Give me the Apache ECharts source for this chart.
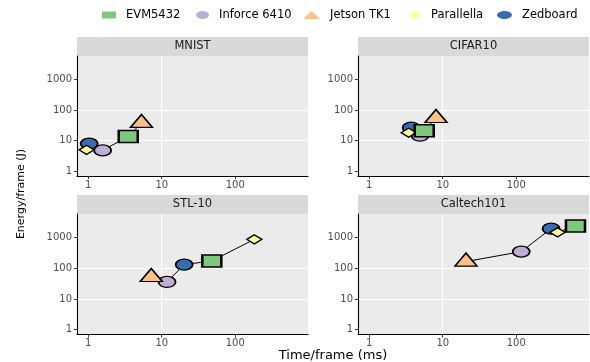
<!DOCTYPE html>
<html><head><meta charset="utf-8">
<script src="https://cdn.jsdelivr.net/npm/echarts@6/dist/echarts.min.js"></script>
<style>html,body{margin:0;padding:0;background:#fff}#c{width:590px;height:362px}</style>
</head><body><div id="c"></div>
<script>
// ---- data ----
const panels = ['MNIST', 'CIFAR10', 'STL-10', 'Caltech101'];
const devices = ['EVM5432', 'Inforce 6410', 'Jetson TK1', 'Parallella', 'Zedboard'];
// time per frame (ms) and energy per frame (J), values in device order
const timeMNIST = [3.5, 1.57, 5.3, 0.95, 1.03];
const energyMNIST = [13.7, 4.8, 38, 5.0, 8.0];
const timeCIFAR10 = [5.6, 4.9, 8.1, 3.44, 3.72];
const energyCIFAR10 = [21.2, 14.5, 55, 18.2, 26.6];
const timeSTL10 = [48, 11.8, 7.2, 182, 20.2];
const energySTL10 = [174, 36, 52, 880, 132];
const timeCaltech101 = [640, 117, 20.7, 365, 298];
const energyCaltech101 = [2405, 350, 166, 1490, 1965];
const xTickValues = [1, 10, 100];
const yTickValues = [1, 10, 100, 1000];

const times = [timeMNIST, timeCIFAR10, timeSTL10, timeCaltech101];
const energies = [energyMNIST, energyCIFAR10, energySTL10, energyCaltech101];

// ---- styles ----
const colors = {'EVM5432': '#7FC97F', 'Inforce 6410': '#BEAED4', 'Jetson TK1': '#FDC086', 'Parallella': '#FFFF99', 'Zedboard': '#386CB0'};
const symbols = {'EVM5432': 'rect', 'Inforce 6410': 'circle', 'Jetson TK1': 'triangle', 'Parallella': 'diamond', 'Zedboard': 'circle'};
const legendIcons = {
  'EVM5432': 'rect',
  'Inforce 6410': 'path://M0,5A5,5 0 1,1 10,5A5,5 0 1,1 0,5Z',
  'Jetson TK1': 'path://M5,0L10,10L0,10Z',
  'Parallella': 'path://M5,0L10,5L5,10L0,5Z',
  'Zedboard': 'path://M0,5A5,5 0 1,1 10,5A5,5 0 1,1 0,5Z'
};
const sizes = {'EVM5432': [19, 12], 'Inforce 6410': [17, 11], 'Jetson TK1': [22, 13], 'Parallella': [15, 9], 'Zedboard': [17, 11]};
const offsets = {'Jetson TK1': [0, -2]};
const drawOrder = ['Zedboard', 'Inforce 6410', 'Parallella', 'EVM5432', 'Jetson TK1'];
const legendLeft = {'EVM5432': 102, 'Inforce 6410': 196, 'Jetson TK1': 303, 'Parallella': 408, 'Zedboard': 497};
const legendIconSize = {'EVM5432': [14, 7], 'Inforce 6410': [13, 8], 'Jetson TK1': [17, 8], 'Parallella': [13, 8], 'Zedboard': [15, 8]};
const FONT = 'DejaVu Sans';

const gridPos = [
  {left: 77, top: 56, width: 231, height: 120},
  {left: 358, top: 56, width: 231, height: 120},
  {left: 77, top: 214, width: 231, height: 120.5},
  {left: 358, top: 214, width: 231, height: 120.5}
];

const grids = [], xAxes = [], yAxes = [], series = [], graphics = [];
panels.forEach((p, i) => {
  const g = gridPos[i];
  grids.push({left: g.left, top: g.top, width: g.width, height: g.height, show: true,
    backgroundColor: '#EBEBEB', borderWidth: 0, containLabel: false});
  const axisCommon = {
    gridIndex: i, type: 'log', logBase: 10,
    axisLine: {show: true, onZero: false, lineStyle: {color: '#000', width: 1.1}},
    axisTick: {show: true, length: 3, lineStyle: {color: '#333', width: 1}},
    axisLabel: {color: '#4D4D4D', fontSize: 10, fontFamily: FONT,
      formatter: v => String(Math.round(v))},
    splitLine: {show: true, showMinLine: false, showMaxLine: false, lineStyle: {color: '#fff', width: 1.1}},
    minorSplitLine: {show: false}
  };
  xAxes.push(Object.assign({}, axisCommon, {
    min: 0.703, max: 977, position: 'bottom',
    axisTick: Object.assign({}, axisCommon.axisTick, {customValues: xTickValues}),
    axisLabel: Object.assign({}, axisCommon.axisLabel, {margin: 4, customValues: xTickValues})
  }));
  yAxes.push(Object.assign({}, axisCommon, {
    min: 0.697, max: 5888, position: 'left',
    axisTick: Object.assign({}, axisCommon.axisTick, {customValues: yTickValues}),
    axisLabel: Object.assign({}, axisCommon.axisLabel, {margin: 5, customValues: yTickValues})
  }));
  // connecting line through points sorted by time
  const pts = devices.map((d, k) => [times[i][k], energies[i][k]]).sort((a, b) => a[0] - b[0]);
  series.push({type: 'line', xAxisIndex: i, yAxisIndex: i, data: pts, symbol: 'none',
    lineStyle: {color: '#000', width: 1}, silent: true, z: 2, animation: false});
  drawOrder.forEach((d, o) => {
    const k = devices.indexOf(d);
    series.push({type: 'scatter', name: d, xAxisIndex: i, yAxisIndex: i,
      data: [[times[i][k], energies[i][k]]],
      symbol: symbols[d], symbolSize: sizes[d], symbolOffset: offsets[d] || [0, 0],
      itemStyle: {color: colors[d], borderColor: '#000', borderWidth: d === 'EVM5432' ? 2 : 1.5, opacity: 1},
      z: 3 + o, animation: false});
  });
  // strip
  graphics.push({type: 'rect', shape: {x: g.left, y: g.top - 19, width: g.width, height: 19},
    style: {fill: '#D9D9D9'}, silent: true});
  graphics.push({type: 'text', x: g.left + g.width / 2, y: g.top - 9.5,
    style: {text: p, fill: '#1A1A1A', font: '11.5px "' + FONT + '"', align: 'center', verticalAlign: 'middle',
      textAlign: 'center', textVerticalAlign: 'middle'}, silent: true});
});
// axis titles
graphics.push({type: 'text', x: 333, y: 355.5,
  style: {text: 'Time/frame (ms)', fill: '#000', font: '13px "' + FONT + '"', align: 'center', verticalAlign: 'middle',
    textAlign: 'center', textVerticalAlign: 'middle'}, silent: true});
graphics.push({type: 'text', x: 21, y: 194, rotation: Math.PI / 2,
  style: {text: 'Energy/frame (J)', fill: '#000', font: '11px "' + FONT + '"', align: 'center', verticalAlign: 'middle',
    textAlign: 'center', textVerticalAlign: 'middle'}, silent: true});

// one legend entry per device, placed individually
const legends = devices.map(d => ({
  top: 9, left: legendLeft[d], padding: 0, itemGap: 0,
  itemWidth: legendIconSize[d][0], itemHeight: legendIconSize[d][1],
  symbolKeepAspect: false,
  textStyle: {fontFamily: FONT, fontSize: 11.5, color: '#000', padding: [0, 0, 0, 5]},
  itemStyle: {borderWidth: 0},
  data: [{name: d, icon: legendIcons[d], symbolKeepAspect: false, itemStyle: {color: colors[d], borderWidth: 0}}]
}));

const chart = echarts.init(document.getElementById('c'), null, {renderer: 'canvas'});
chart.setOption({
  animation: false,
  grid: grids, xAxis: xAxes, yAxis: yAxes, series: series, graphic: graphics,
  legend: legends
});
</script></body></html>
